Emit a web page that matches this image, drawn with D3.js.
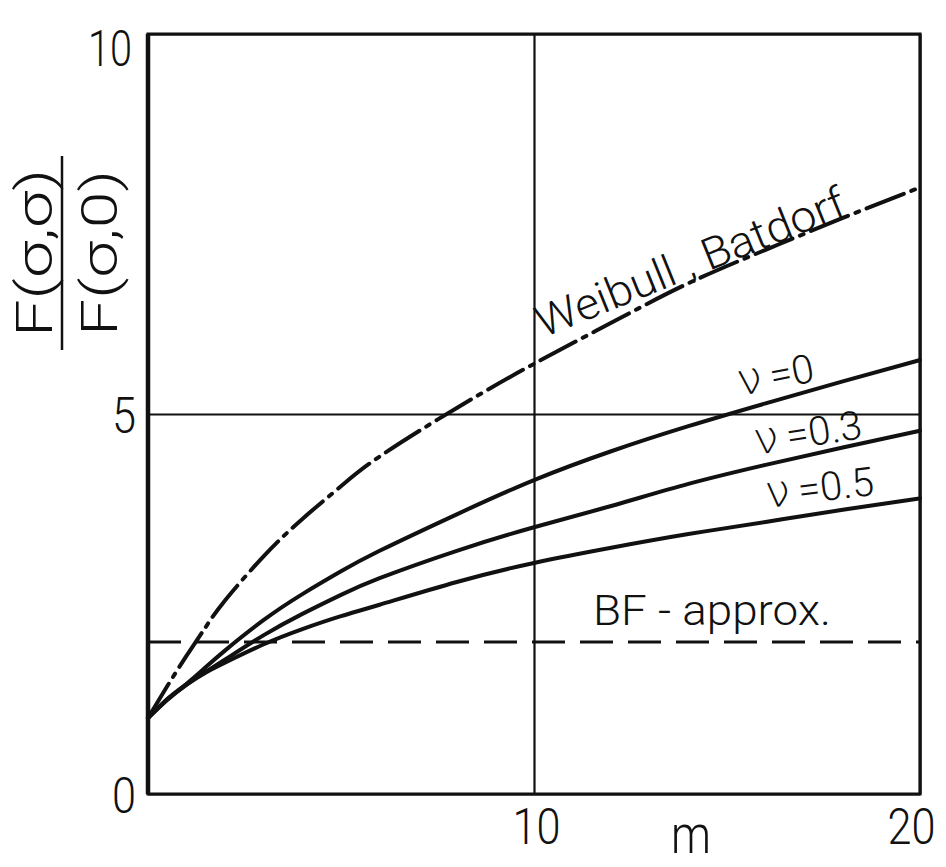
<!DOCTYPE html>
<html>
<head>
<meta charset="utf-8">
<script src="https://cdn.jsdelivr.net/npm/d3@7"></script>
<style>
  html, body { margin: 0; padding: 0; background: #fff; }
  svg { display: block; }
  text { font-family: Roboto, "DejaVu Sans", sans-serif; font-weight: 300; fill: #111; }
</style>
</head>
<body>
<svg id="chart" width="946" height="867"></svg>
<script>
// Shape parameter m of the Weibull distribution
const mValues = [0, 0.5, 1, 1.5, 2, 3, 4, 5, 6, 8, 10, 12, 14, 16, 18, 20];
// Ratio F(σ,σ)/F(σ,0) for each criterion
const weibullBatdorf = [1.0, 1.42, 1.82, 2.2, 2.55, 3.13, 3.62, 4.05, 4.44, 5.08, 5.66, 6.2, 6.72, 7.16, 7.58, 7.98];
const nu0  = [1.0, 1.25, 1.45, 1.67, 1.89, 2.29, 2.63, 2.93, 3.2, 3.68, 4.13, 4.51, 4.84, 5.14, 5.43, 5.71];
const nu03 = [1.0, 1.24, 1.44, 1.61, 1.77, 2.09, 2.37, 2.62, 2.84, 3.2, 3.51, 3.79, 4.08, 4.33, 4.56, 4.78];
const nu05 = [1.0, 1.24, 1.44, 1.6, 1.73, 1.97, 2.17, 2.34, 2.49, 2.79, 3.04, 3.24, 3.42, 3.58, 3.74, 3.89];
// BF approximation: constant ratio
const bfM = [0, 20];
const bfApprox = [2, 2];

const xTicks = [10, 20];
const yTicks = [0, 5, 10];

const svg = d3.select("#chart");
const plotLeft = 148, plotRight = 920, plotTop = 34, plotBottom = 794;

const x = d3.scaleLinear().domain([0, 20]).range([plotLeft, plotRight]);
const y = d3.scaleLinear().domain([0, 10]).range([plotBottom, plotTop]);

// grid lines at m = 10 and ratio = 5
svg.append("g")
  .attr("transform", `translate(0,${plotBottom})`)
  .call(d3.axisBottom(x).tickValues(xTicks).tickSize(-(plotBottom - plotTop)).tickFormat(""))
  .call(g => g.select(".domain").remove())
  .call(g => g.selectAll(".tick line").attr("stroke", "#111").attr("stroke-width", 2.2));
svg.append("g")
  .attr("transform", `translate(${plotLeft},0)`)
  .call(d3.axisLeft(y).tickValues(yTicks).tickSize(-(plotRight - plotLeft)).tickFormat(""))
  .call(g => g.select(".domain").remove())
  .call(g => g.selectAll(".tick line").attr("stroke", "#111").attr("stroke-width", 2.2));

// frame
svg.append("path")
  .attr("d", `M${x(0)},${y(10)}H${x(20)}V${y(0)}H${x(0)}Z`)
  .attr("fill", "none").attr("stroke", "#111").attr("stroke-width", 3.2);
svg.append("line")
  .attr("x1", x(0)).attr("x2", x(0)).attr("y1", y(10)).attr("y2", y(0))
  .attr("stroke", "#111").attr("stroke-width", 4.5);

// tick labels
const tickFont = g => g.selectAll(".tick text")
  .attr("font-size", 50).attr("font-family", "Roboto").attr("font-weight", 300).attr("fill", "#111")
  .attr("lengthAdjust", "spacingAndGlyphs");

const yLab = svg.append("g")
  .attr("transform", `translate(${plotLeft - 12},0)`)
  .call(d3.axisLeft(y).tickValues(yTicks).tickSize(0).tickPadding(0).tickFormat(d3.format("d")))
  .call(g => g.select(".domain").remove())
  .call(tickFont);
yLab.selectAll(".tick text")
  .attr("dy", "0.36em")
  .attr("textLength", d => d === 10 ? 44 : 24);
yLab.selectAll(".tick").filter(d => d === 10).select("text").attr("dy", "0.62em").attr("dx", -4);

const xLab = svg.append("g")
  .attr("transform", `translate(0,${plotBottom + 14})`)
  .call(d3.axisBottom(x).tickValues(xTicks).tickSize(0).tickPadding(0).tickFormat(d3.format("d")))
  .call(g => g.select(".domain").remove())
  .call(tickFont);
xLab.selectAll(".tick text")
  .attr("dy", "0.72em")
  .attr("textLength", 48);
xLab.selectAll(".tick").filter(d => d === 20).select("text").attr("dx", -9);
xLab.selectAll(".tick").filter(d => d === 10).select("text").attr("dx", 2);

// axis titles
svg.append("text")
  .attr("x", 691).attr("y", 853)
  .attr("text-anchor", "middle").attr("font-size", 54)
  .attr("textLength", 40).attr("lengthAdjust", "spacingAndGlyphs")
  .text("m");

const yTitle = svg.append("g").attr("transform", "translate(0,253) rotate(-90)");
yTitle.append("text")
  .attr("x", 0).attr("y", 52).attr("text-anchor", "middle")
  .attr("font-size", 50).attr("textLength", 168).attr("lengthAdjust", "spacingAndGlyphs")
  .text("F(σ,σ)");
yTitle.append("line")
  .attr("x1", -97).attr("x2", 97).attr("y1", 62).attr("y2", 62)
  .attr("stroke", "#111").attr("stroke-width", 2.5);
yTitle.append("text")
  .attr("x", 0).attr("y", 117).attr("text-anchor", "middle")
  .attr("font-size", 50).attr("textLength", 166).attr("lengthAdjust", "spacingAndGlyphs")
  .text("F(σ,0)");

// curves
const line = d3.line()
  .x(d => x(d[0]))
  .y(d => y(d[1]))
  .curve(d3.curveNatural);

const series = [
  { values: weibullBatdorf, dash: "40,8,4,8" },
  { values: nu0, dash: null },
  { values: nu03, dash: null },
  { values: nu05, dash: null }
];
series.forEach(s => {
  svg.append("path")
    .datum(mValues.map((m, i) => [m, s.values[i]]))
    .attr("d", line)
    .attr("fill", "none")
    .attr("stroke", "#111")
    .attr("stroke-width", 4)
    .attr("stroke-linecap", "round")
    .attr("stroke-dasharray", s.dash);
});

svg.append("path")
  .datum(bfM.map((m, i) => [m, bfApprox[i]]))
  .attr("d", line)
  .attr("fill", "none")
  .attr("stroke", "#111")
  .attr("stroke-width", 3)
  .attr("stroke-dasharray", "33,15");

// curve labels
function label(txt, px, py, angle, size, len) {
  svg.append("text")
    .attr("transform", `translate(${px},${py}) rotate(${angle})`)
    .attr("font-size", size)
    .attr("textLength", len).attr("lengthAdjust", "spacingAndGlyphs")
    .text(txt);
}
function nuLabel(rest, px, py, angle, size) {
  const t = svg.append("text")
    .attr("transform", `translate(${px},${py}) rotate(${angle})`)
    .attr("font-size", size);
  t.append("tspan").attr("font-family", "DejaVu Sans").attr("font-weight", 200)
    .attr("font-size", size * 1.12).text("ν");
  t.append("tspan").attr("dx", 8).text(rest);
}
label("Weibull , Batdorf", 543, 338, -22, 44, 330);
nuLabel("=0", 740, 396, -11, 40);
nuLabel("=0.3", 756, 455, -9, 40);
nuLabel("=0.5", 767, 508, -7, 40);
label("BF - approx.", 593, 625, 0, 42, 238);
</script>
</body>
</html>
